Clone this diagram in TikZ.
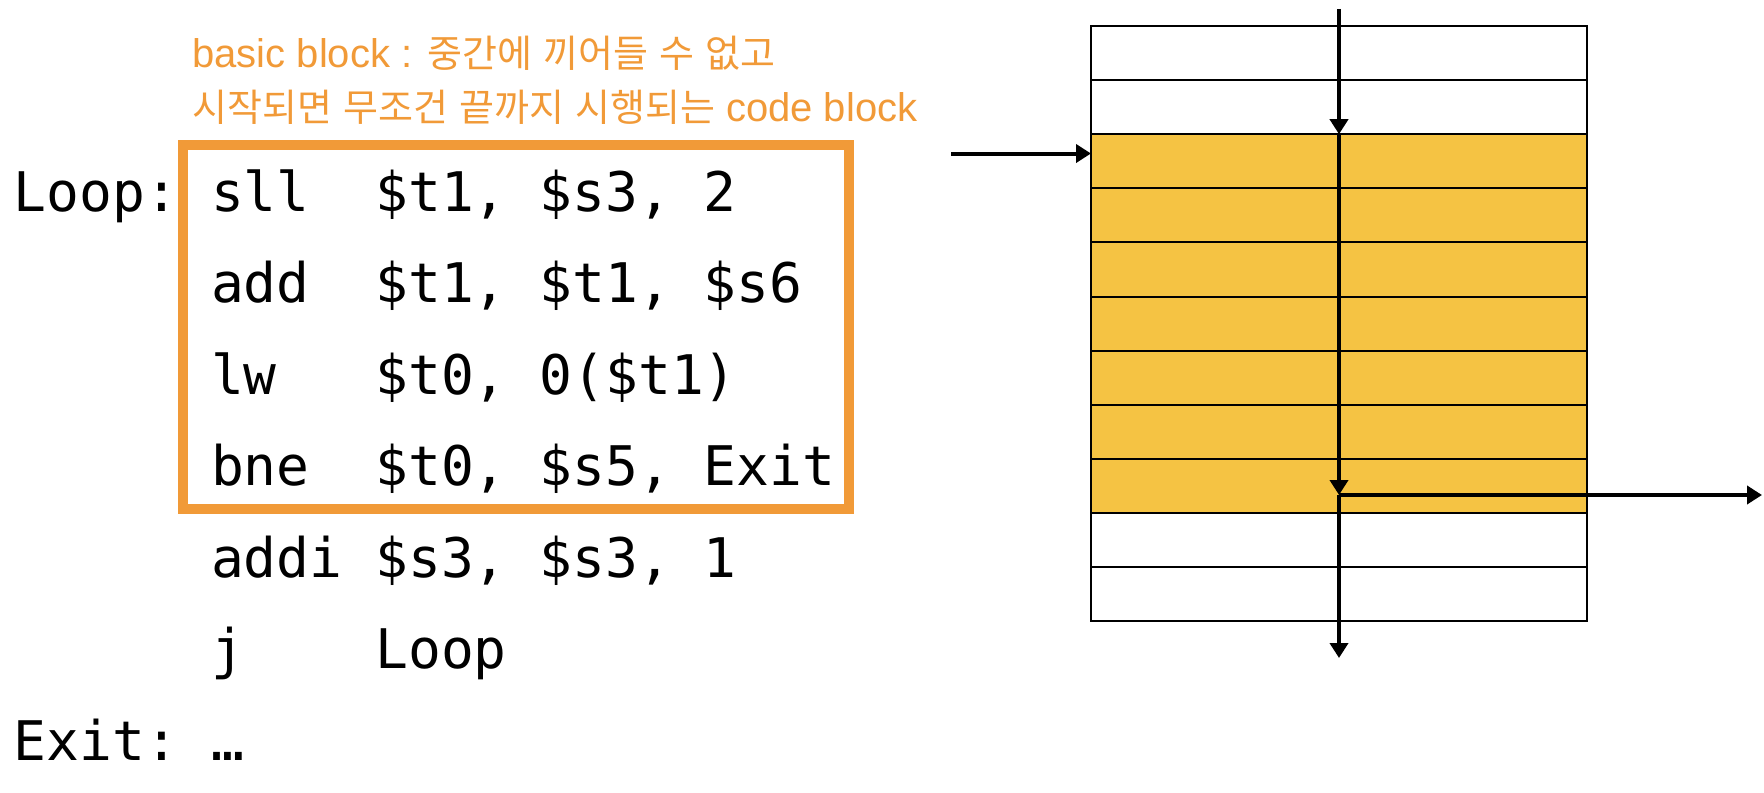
\documentclass[tikz,border=0pt]{standalone}
\usepackage{fontspec}
\usepackage{xcolor}
\usetikzlibrary{arrows.meta}
\newfontfamily\codefont{DejaVu Sans Mono}
\newfontfamily\latinfont{Liberation Sans}
\newfontfamily\krfont[WordSpace=1.3]{Noto Sans CJK KR}
\newcommand\hang[1]{{\krfont\fontsize{19}{23}\selectfont #1}}
\definecolor{bborange}{HTML}{F19A38}
\definecolor{bbyellow}{HTML}{F5C343}

\begin{document}
\begin{tikzpicture}[x=0.5pt, y=-0.5pt,
  code/.style={anchor=base west, inner sep=0pt, font=\codefont\fontsize{27.3}{30}\selectfont},
  note/.style={anchor=base west, inner sep=0pt, text=bborange, font=\latinfont\fontsize{20}{24}\selectfont},
  cell/.style={draw, line width=1pt},
  arrow/.style={-{Triangle[length=7.5pt, width=9pt]}, line width=2pt}
]
\useasboundingbox (0,0) rectangle (1764,792);

% 설명
\node[note] (note1) at (192,68) {basic block : \hang{중간에 끼어들 수 없고}};
\node[note] (note2) at (192,121) {\hang{시작되면 무조건 끝까지 시행되는} code block};

% basic block 테두리
\draw[bborange, line width=5pt] (182.5,145) rectangle (849,509);

% 코드: label / opcode / operands
\foreach \y/\lab/\op/\arg [count=\i] in {
    211/Loop:/sll/{\$t1, \$s3, 2},
    302.5/{}/add/{\$t1, \$t1, \$s6},
    394/{}/lw/{\$t0, 0(\$t1)},
    485.5/{}/bne/{\$t0, \$s5, Exit},
    577/{}/addi/{\$s3, \$s3, 1},
    668.5/{}/j/Loop,
    760/Exit:/…/{}} {
  \node[code] (lab\i) at (13.5,\y) {\lab};
  \node[code] (op\i) at (210.6,\y) {\op};
  \node[code] (arg\i) at (374.9,\y) {\arg};
}

% 메모리 칸
\foreach \i in {0,1,9,10}
  \draw[cell, fill=white] (1091,{26+54.1*\i}) rectangle (1587,{80.1+54.1*\i});
\foreach \i in {2,...,8}
  \draw[cell, fill=bbyellow] (1091,{26+54.1*\i}) rectangle (1587,{80.1+54.1*\i});

% 흐름
\coordinate (start) at (1339,9);
\coordinate (entry) at (1339,134.2);
\coordinate (branch) at (1339,495);
\coordinate (fall) at (1339,658);
\coordinate (taken) at (1762,495);
\coordinate (jumpin) at (951,153.5);
\coordinate (target) at (1091,153.5);

\draw[arrow] (start) -- (entry);
\draw[arrow] (entry) -- (branch);
\draw[arrow] (branch) -- (fall);
\draw[arrow] (branch) -- (taken);
\draw[arrow] (jumpin) -- (target);

\end{tikzpicture}
\end{document}
